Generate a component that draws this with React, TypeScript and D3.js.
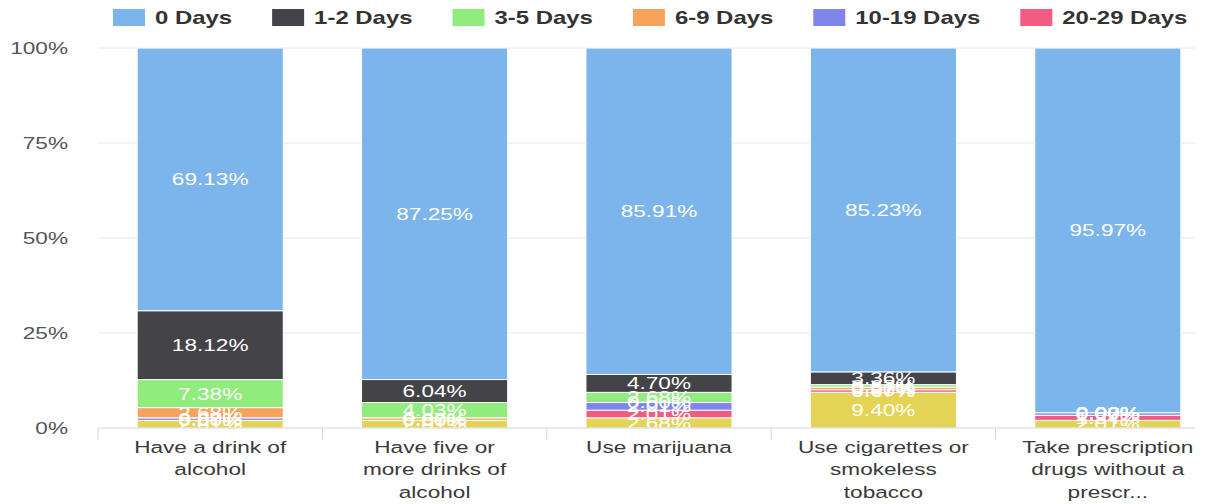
import React, { useEffect, useRef } from "react";
import * as d3 from "d3";

// ---- data ----
const categories = [
  "Have a drink of alcohol",
  "Have five or more drinks of alcohol",
  "Use marijuana",
  "Use cigarettes or smokeless tobacco",
  "Take prescription drugs without a prescription",
];
const categoryLabelLines = [
  ["Have a drink of", "alcohol"],
  ["Have five or", "more drinks of", "alcohol"],
  ["Use marijuana"],
  ["Use cigarettes or", "smokeless", "tobacco"],
  ["Take prescription", "drugs without a", "prescr..."],
];
const seriesNames = ["0 Days", "1-2 Days", "3-5 Days", "6-9 Days", "10-19 Days", "20-29 Days", "All 30 Days"];
const seriesColors = ["#7cb5ec", "#434348", "#90ed7d", "#f7a35c", "#8085e9", "#f15c80", "#e4d354"];
const legendCount = 6;

const days0 = [69.13, 87.25, 85.91, 85.23, 95.97];
const days1to2 = [18.12, 6.04, 4.7, 3.36, 0.0];
const days3to5 = [7.38, 4.03, 2.68, 0.67, 0.0];
const days6to9 = [2.68, 0.67, 0.0, 0.67, 0.0];
const days10to19 = [0.67, 0.0, 2.01, 0.0, 0.67];
const days20to29 = [0.0, 0.0, 2.01, 0.67, 1.34];
const days30 = [2.01, 2.01, 2.68, 9.4, 2.01];
const seriesValues = [days0, days1to2, days3to5, days6to9, days10to19, days20to29, days30];

const yTicks = [0, 25, 50, 75, 100];

// ---- layout (screen px, horizontally stretched rendering) ----
const K = 1.33;
const W = 1207;
const H = 504;
const VW = W / K;
const FONT = "'Liberation Sans', Arial, Helvetica, sans-serif";

export default function App() {
  const ref = useRef<SVGSVGElement | null>(null);

  useEffect(() => {
    const svg = d3.select(ref.current);
    svg.selectAll("*").remove();

    const plotLeft = 98 / K;
    const bandRight = 1220 / K;
    const gridRight = 1195 / K;
    const top = 48;
    const bottom = 428;

    const pad = 0.349;
    const x = d3.scaleBand<string>().domain(categories).range([plotLeft, bandRight]).paddingInner(pad).paddingOuter(pad / 2);
    const y = d3.scaleLinear().domain([0, 100]).range([bottom, top]);

    // gridlines
    const g = svg.append("g");
    yTicks.filter((t) => t > 0).forEach((t) => {
      g.append("line")
        .attr("x1", plotLeft).attr("x2", gridRight)
        .attr("y1", y(t)).attr("y2", y(t))
        .attr("stroke", "#e6e6e6").attr("stroke-width", 1)
        .attr("vector-effect", "non-scaling-stroke");
    });

    // y labels
    yTicks.forEach((t) => {
      g.append("text")
        .attr("x", 68 / K).attr("y", y(t))
        .attr("dy", "0.35em")
        .attr("text-anchor", "end")
        .attr("font-family", FONT).attr("font-size", 17)
        .attr("fill", "#555")
        .text(`${t}%`);
    });

    // stacked data (bottom series first)
    const keysBottomUp = seriesNames.slice().reverse();
    const rows = categories.map((c, i) => {
      const r: any = { cat: c };
      seriesNames.forEach((s, j) => (r[s] = seriesValues[j][i]));
      return r;
    });
    const stacked = d3.stack<any>().keys(keysBottomUp)(rows);
    const colorOf = (name: string) => seriesColors[seriesNames.indexOf(name)];

    const bars = svg.append("g");
    stacked.forEach((layer) => {
      layer.forEach((d) => {
        const cat = d.data.cat as string;
        bars.append("rect")
          .attr("x", x(cat)!)
          .attr("width", x.bandwidth())
          .attr("y", y(d[1]))
          .attr("height", Math.max(0, y(d[0]) - y(d[1])))
          .attr("fill", colorOf(layer.key))
          .attr("stroke", "#ffffff").attr("stroke-width", 1)
          .attr("vector-effect", "non-scaling-stroke");
      });
    });

    // data labels
    const labels = svg.append("g");
    stacked.forEach((layer) => {
      layer.forEach((d) => {
        const cat = d.data.cat as string;
        const v = d[1] - d[0];
        labels.append("text")
          .attr("x", x(cat)! + x.bandwidth() / 2)
          .attr("y", (y(d[0]) + y(d[1])) / 2)
          .attr("dy", "0.35em")
          .attr("text-anchor", "middle")
          .attr("font-family", FONT).attr("font-size", 17)
          .attr("fill", "#ffffff")
          .text(`${v.toFixed(2)}%`);
      });
    });

    // x axis line & ticks
    const ax = svg.append("g");
    ax.append("line")
      .attr("x1", plotLeft).attr("x2", gridRight)
      .attr("y1", bottom).attr("y2", bottom)
      .attr("stroke", "#ccd6eb").attr("stroke-width", 1)
      .attr("vector-effect", "non-scaling-stroke");
    const step = x.step();
    d3.range(categories.length + 1).forEach((i) => {
      const tx = plotLeft + i * step;
      ax.append("line")
        .attr("x1", tx).attr("x2", tx)
        .attr("y1", bottom).attr("y2", bottom + 12)
        .attr("stroke", "#ccd6eb").attr("stroke-width", 1)
        .attr("vector-effect", "non-scaling-stroke");
    });
    categories.forEach((c, i) => {
      const t = ax.append("text")
        .attr("text-anchor", "middle")
        .attr("font-family", FONT).attr("font-size", 17)
        .attr("fill", "#3a3a3a");
      categoryLabelLines[i].forEach((ln, j) => {
        t.append("tspan")
          .attr("x", x(c)! + x.bandwidth() / 2)
          .attr("y", 453 + j * 22.5)
          .text(ln);
      });
    });

    // legend
    const lg = svg.append("g");
    let lx = 113 / K;
    seriesNames.slice(0, legendCount).forEach((name, i) => {
      lg.append("rect")
        .attr("x", lx).attr("y", 9)
        .attr("width", 32 / K).attr("height", 17)
        .attr("fill", seriesColors[i]);
      const t = lg.append("text")
        .attr("x", lx + 42 / K).attr("y", 24)
        .attr("font-family", FONT).attr("font-size", 18)
        .attr("font-weight", "bold")
        .attr("fill", "#333")
        .text(name);
      const w = (t.node() as SVGTextElement).getComputedTextLength();
      lx += 42 / K + w + 40 / K;
    });
  }, []);

  return (
    <svg
      ref={ref}
      width={W}
      height={H}
      viewBox={`0 0 ${VW} ${H}`}
      preserveAspectRatio="none"
      style={{ position: "absolute", left: 0, top: 0, background: "#fff" }}
    />
  );
}
